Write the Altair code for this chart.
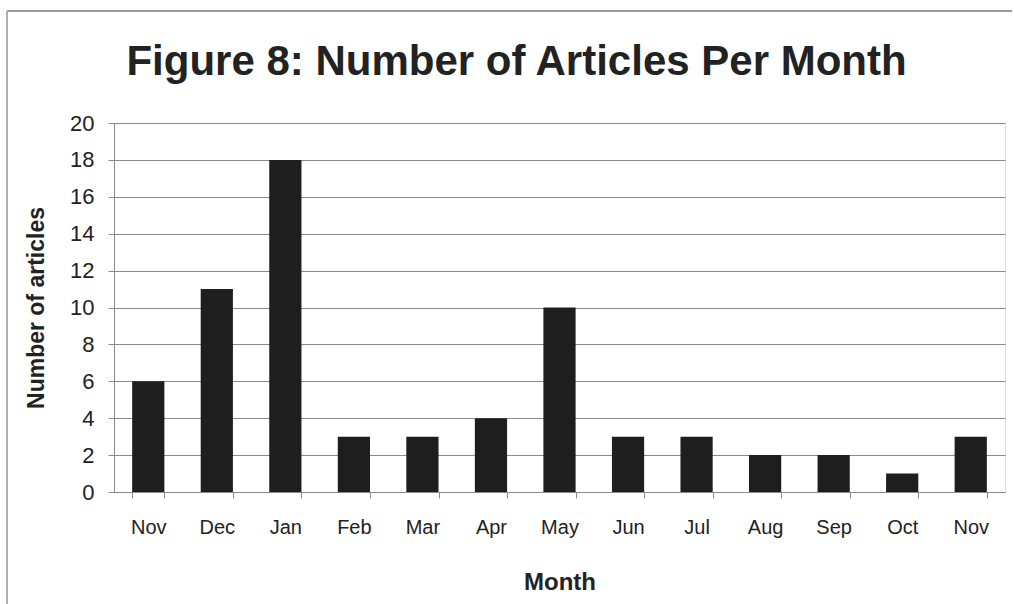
import altair as alt
import pandas as pd

# Monthly article counts, November through the following November
months = ["Nov", "Dec", "Jan", "Feb", "Mar", "Apr", "May", "Jun",
          "Jul", "Aug", "Sep", "Oct", "Nov"]
articles = [6, 11, 18, 3, 3, 4, 10, 3, 3, 2, 2, 1, 3]
y_ticks = list(range(0, 21, 2))

# "Nov" appears twice, so each bar gets a unique key; the axis shows the month only
df = pd.DataFrame({
    "key": [f"{i:02d} {m}" for i, m in enumerate(months)],
    "month": months,
    "articles": articles,
})

FONT = "Liberation Sans"
TEXT = "#222222"
GRID = "#8a8a8a"

bars = alt.Chart(df).mark_bar(color="#1e1e1e").encode(
    x=alt.X(
        "key:N",
        sort=None,
        title="Month",
        scale=alt.Scale(paddingInner=0.53, paddingOuter=0.265),
        axis=alt.Axis(
            labelExpr="split(datum.label, ' ')[1]",
            labelAngle=0,
            labelFont=FONT, labelFontSize=20, labelColor=TEXT,
            labelPadding=19,
            tickBand="extent", tickSize=6, tickColor=GRID,
            domainColor=GRID,
            titleFont=FONT, titleFontSize=24, titleFontWeight="bold",
            titleColor=TEXT, titlePadding=33,
        ),
    ),
    y=alt.Y(
        "articles:Q",
        title="Number of articles",
        scale=alt.Scale(domain=[0, 20], nice=False),
        axis=alt.Axis(
            values=y_ticks,
            labelFont=FONT, labelFontSize=22, labelColor=TEXT,
            labelPadding=14,
            tickSize=6, tickColor=GRID,
            domainColor=GRID,
            gridColor=GRID, gridWidth=1,
            titleFont=FONT, titleFontSize=23, titleFontWeight="bold",
            titleColor=TEXT, titlePadding=21,
        ),
    ),
)

# Thin outer frame lines along the top and left of the figure
frame_top = alt.Chart(df).mark_rule(color="#9a9a9a", strokeWidth=1.5).encode(
    x=alt.value(-107), x2=alt.value(898), y=alt.value(-112)
)
frame_left = alt.Chart(df).mark_rule(color="#b0b0b0", strokeWidth=1.5).encode(
    x=alt.value(-107), y=alt.value(-112), y2=alt.value(481)
)

chart = alt.layer(bars, frame_top, frame_left).properties(
    width=891,
    height=369,
    title=alt.TitleParams(
        "Figure 8: Number of Articles Per Month",
        font=FONT, fontSize=42, fontWeight="bold", color=TEXT,
        anchor="middle", dx=-43, offset=-107, baseline="alphabetic",
    ),
    autosize=alt.AutoSizeParams(type="none"),
    padding={"left": 114, "top": 123, "right": 9, "bottom": 112},
).configure_view(
    stroke=GRID, strokeWidth=1
).configure(background="white")

chart.save("out.html", embed_options={"renderer": "svg", "actions": False})
